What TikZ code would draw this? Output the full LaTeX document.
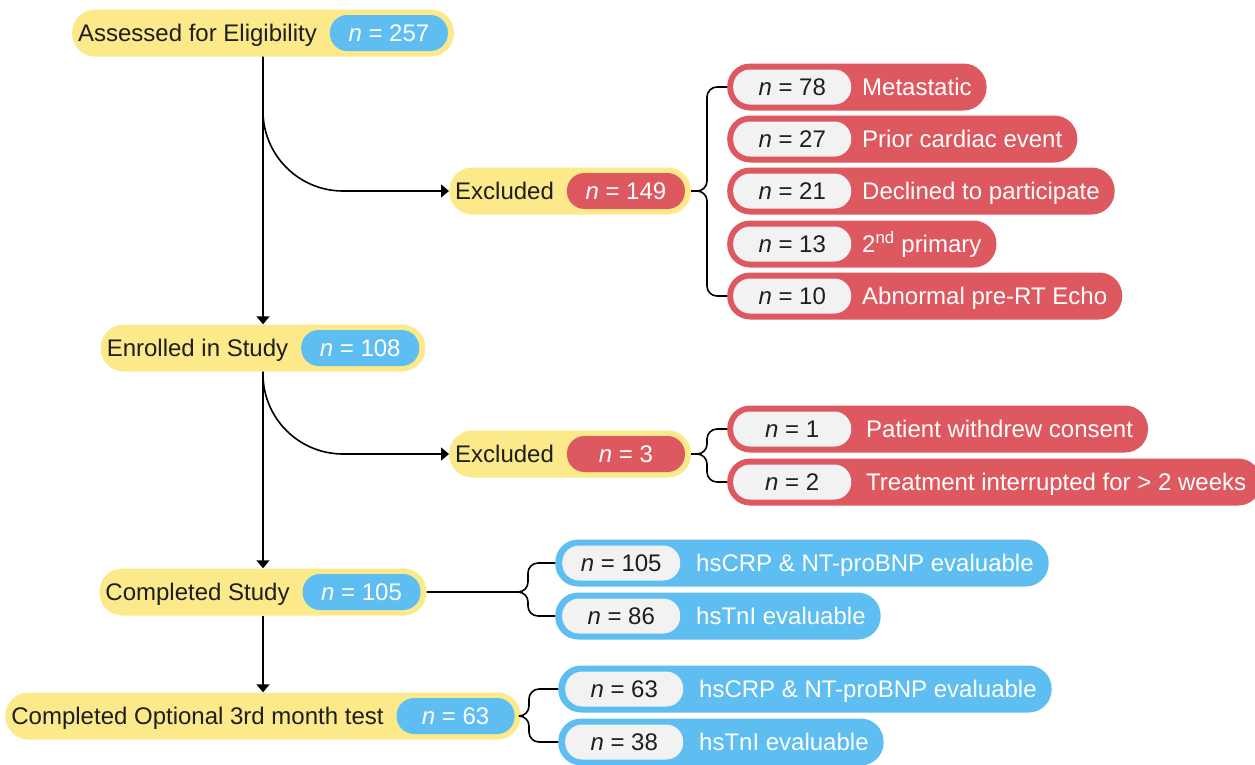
\documentclass[tikz,border=0pt]{standalone}
\usepackage{fontspec}
\setmainfont{Liberation Sans}
\usetikzlibrary{arrows.meta}

\definecolor{stageyellow}{HTML}{FBE98A}
\definecolor{countblue}{HTML}{5EBEF1}
\definecolor{exclred}{HTML}{DE585F}
\definecolor{pillgray}{HTML}{F2F2F2}
\definecolor{inktext}{HTML}{1E1E1E}

\tikzset{
  every node/.style={font=\fontsize{24}{28}\selectfont, text height=17.2pt, text depth=0pt},
  stage/.style={fill=stageyellow, rounded corners=23pt, minimum height=47pt, inner xsep=6pt, inner ysep=0pt, text=inktext},
  bluecount/.style={fill=countblue, rounded corners=17.5pt, minimum height=36pt, minimum width=118pt, inner sep=0pt, text=white},
  redcount/.style={bluecount, fill=exclred},
  redrow/.style={fill=exclred, rounded corners=23pt, minimum height=47pt, inner xsep=15pt, inner ysep=0pt, text=white, anchor=west},
  bluerow/.style={redrow, fill=countblue},
  graycount/.style={fill=pillgray, rounded corners=17pt, minimum height=35pt, minimum width=118pt, inner sep=0pt, text=inktext, anchor=west},
  flow/.style={line width=1.6pt, -{Triangle[length=8pt,width=13pt]}},
  brace/.style={line width=1.6pt, rounded corners=10pt},
}

\begin{document}
\begin{tikzpicture}[x=1pt, y=-1pt]
  \useasboundingbox (0,0) rectangle (1255,764);

  % main stages
  \node[stage] (assess) at (263,33) {Assessed for Eligibility\hspace*{131pt}};
  \node[bluecount, anchor=east] (assessN) at ([xshift=-6pt]assess.east) {\textit{n} = 257};

  \node[stage] (enrol) at (263,348) {Enrolled in Study\hspace*{131pt}};
  \node[bluecount, anchor=east] (enrolN) at ([xshift=-6pt]enrol.east) {\textit{n} = 108};

  \node[stage] (comp) at (263,592) {Completed Study\hspace*{131pt}};
  \node[bluecount, anchor=east] (compN) at ([xshift=-6pt]comp.east) {\textit{n} = 105};

  \node[stage] (optional) at (263,716) {Completed Optional 3rd month test\hspace*{131pt}};
  \node[bluecount, anchor=east] (optionalN) at ([xshift=-6pt]optional.east) {\textit{n} = 63};

  % exclusions
  \node[stage, anchor=west] (excl1) at (449,191) {Excluded\hspace*{131pt}};
  \node[redcount, anchor=east] (excl1N) at ([xshift=-6pt]excl1.east) {\textit{n} = 149};

  \node[stage, anchor=west] (excl2) at (449,454) {Excluded\hspace*{131pt}};
  \node[redcount, anchor=east] (excl2N) at ([xshift=-6pt]excl2.east) {\textit{n} = 3};

  % reasons for the first exclusion
  \node[redrow] (r78) at (727,87) {\hspace*{120pt}Metastatic};
  \node[graycount] (n78) at ([xshift=6pt]r78.west) {\textit{n} = 78};
  \node[redrow] (r27) at (727,139) {\hspace*{120pt}Prior cardiac event};
  \node[graycount] (n27) at ([xshift=6pt]r27.west) {\textit{n} = 27};
  \node[redrow] (r21) at (727,191) {\hspace*{120pt}Declined to participate};
  \node[graycount] (n21) at ([xshift=6pt]r21.west) {\textit{n} = 21};
  \node[redrow] (r13) at (727,244) {\hspace*{120pt}2\textsuperscript{nd} primary};
  \node[graycount] (n13) at ([xshift=6pt]r13.west) {\textit{n} = 13};
  \node[redrow] (r10) at (727,296) {\hspace*{120pt}Abnormal pre-RT Echo};
  \node[graycount] (n10) at ([xshift=6pt]r10.west) {\textit{n} = 10};

  % reasons for the second exclusion
  \node[redrow] (r1) at (727,429) {\hspace*{124pt}Patient withdrew consent};
  \node[graycount] (n1) at ([xshift=6pt]r1.west) {\textit{n} = 1};
  \node[redrow] (r2) at (727,482) {\hspace*{124pt}Treatment interrupted for > 2 weeks};
  \node[graycount] (n2) at ([xshift=6pt]r2.west) {\textit{n} = 2};

  % evaluable samples
  \node[bluerow] (c105) at (555,563) {\hspace*{126pt}hsCRP \& NT-proBNP evaluable};
  \node[graycount] (c105N) at ([xshift=7pt]c105.west) {\textit{n} = 105};
  \node[bluerow] (c86) at (555,616) {\hspace*{126pt}hsTnI evaluable};
  \node[graycount] (c86N) at ([xshift=7pt]c86.west) {\textit{n} = 86};

  \node[bluerow] (o63) at (558,689) {\hspace*{126pt}hsCRP \& NT-proBNP evaluable};
  \node[graycount] (o63N) at ([xshift=7pt]o63.west) {\textit{n} = 63};
  \node[bluerow] (o38) at (558,742) {\hspace*{126pt}hsTnI evaluable};
  \node[graycount] (o38N) at ([xshift=7pt]o38.west) {\textit{n} = 38};

  % flow arrows
  \draw[flow] (assess.south) -- (enrol.north);
  \draw[flow, rounded corners=80pt] (assess.south) |- (excl1.west);
  \draw[flow] (enrol.south) -- (comp.north);
  \draw[flow, rounded corners=80pt] (enrol.south) |- (excl2.west);
  \draw[flow] (comp.south) -- (optional.north);

  % braces
  \coordinate (tip1) at (707,191);
  \coordinate (tip2) at (707,454);
  \coordinate (tip3) at (528,592);
  \coordinate (tip4) at (529,716);

  \draw[brace] (r78.west) -| (tip1) -- (excl1.east);
  \draw[brace] (r10.west) -| (tip1) -- (excl1.east);
  \draw[brace] (r1.west) -| (tip2) -- (excl2.east);
  \draw[brace] (r2.west) -| (tip2) -- (excl2.east);
  \draw[brace] (c105.west) -| (tip3) -- (comp.east);
  \draw[brace] (c86.west) -| (tip3) -- (comp.east);
  \draw[brace] (o63.west) -| (tip4) -- (optional.east);
  \draw[brace] (o38.west) -| (tip4) -- (optional.east);
\end{tikzpicture}
\end{document}
